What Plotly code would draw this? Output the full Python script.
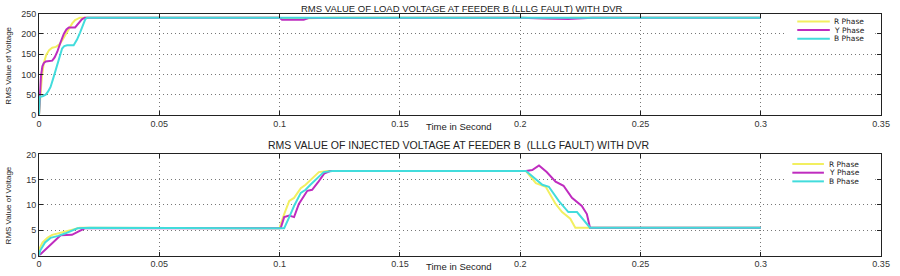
import plotly.graph_objects as go

# ---------------- data ----------------
# Top: RMS value of load voltage
load_t_R = [0, 0.0005, 0.0012, 0.002, 0.003, 0.0042, 0.0055, 0.007, 0.0085, 0.0096, 0.011, 0.0124, 0.0138, 0.015, 0.016, 0.017, 0.1, 0.102, 0.108, 0.112, 0.12, 0.2, 0.205, 0.215, 0.222, 0.3]
load_v_R = [0, 40, 95, 128, 148, 160, 166, 168, 174, 184, 198, 212, 226, 234, 238, 240, 240, 238, 238, 239, 240, 240, 239, 238, 240, 240]
load_t_Y = [0, 0.0003, 0.0008, 0.0014, 0.002, 0.0028, 0.0055, 0.0065, 0.0076, 0.009, 0.0103, 0.0114, 0.0124, 0.015, 0.0165, 0.0178, 0.019, 0.1, 0.101, 0.11, 0.112, 0.2, 0.21, 0.22, 0.23, 0.3]
load_v_Y = [0, 45, 95, 120, 128, 132, 134, 142, 156, 180, 200, 211, 216, 216, 226, 236, 240, 240, 235, 235, 239, 240, 238, 237, 240, 240]
load_t_B = [0, 0.0003, 0.0015, 0.0028, 0.0038, 0.0048, 0.006, 0.0076, 0.0088, 0.0096, 0.0105, 0.0117, 0.0144, 0.0158, 0.0171, 0.0185, 0.0192, 0.020, 0.1, 0.3]
load_v_B = [0, 45, 46, 50, 58, 69, 92, 125, 150, 164, 170, 172, 172, 186, 204, 226, 236, 240, 240, 240]

# Bottom: RMS value of injected voltage
inj_t_R = [0, 0.0003, 0.0015, 0.0035, 0.0055, 0.009, 0.012, 0.017, 0.1, 0.1005, 0.1019, 0.104, 0.106, 0.1088, 0.1108, 0.1135, 0.1163, 0.12, 0.2024, 0.2065, 0.2106, 0.2147, 0.2174, 0.2208, 0.2229, 0.3]
inj_v_R = [0, 1.5, 2.6, 3.5, 4.1, 4.5, 4.9, 5.5, 5.4, 6.3, 8.2, 10.8, 11.4, 13.3, 14.0, 15.2, 16.5, 16.7, 16.7, 14.3, 13.6, 10.2, 8.6, 7.3, 5.5, 5.5]
inj_t_Y = [0, 0.0028, 0.006, 0.009, 0.0137, 0.0165, 0.019, 0.1, 0.1005, 0.1019, 0.104, 0.106, 0.108, 0.1115, 0.1135, 0.116, 0.1185, 0.121, 0.2024, 0.205, 0.2078, 0.211, 0.2147, 0.218, 0.2215, 0.2256, 0.2277, 0.229, 0.3]
inj_v_Y = [0, 1.3, 2.6, 4.0, 4.1, 4.8, 5.4, 5.4, 5.5, 7.6, 7.9, 7.6, 10.2, 12.8, 13.0, 14.5, 16.2, 16.7, 16.7, 16.9, 17.8, 16.5, 14.6, 13.8, 11.4, 9.8, 8.2, 5.5, 5.5]
inj_t_B = [0, 0.0005, 0.0025, 0.0048, 0.008, 0.011, 0.016, 0.021, 0.1, 0.1019, 0.104, 0.106, 0.1088, 0.1108, 0.1128, 0.1155, 0.1183, 0.122, 0.2024, 0.2092, 0.2119, 0.216, 0.22, 0.2236, 0.227, 0.229, 0.3]
inj_v_B = [0, 1.0, 2.6, 3.5, 3.9, 4.4, 5.4, 5.5, 5.4, 5.4, 7.6, 9.8, 12.4, 13.0, 14.0, 15.2, 16.5, 16.7, 16.7, 14.0, 13.6, 10.8, 8.6, 8.6, 6.7, 5.5, 5.5]

phase_names = ["R Phase", "Y Phase", "B Phase"]
phase_colors = ["#f2ef60", "#bf2cbf", "#42dcdc"]

top_title = "RMS VALUE OF LOAD VOLTAGE AT FEEDER B (LLLG FAULT) WITH DVR"
bot_title = "RMS VALUE OF INJECTED VOLTAGE AT FEEDER B  (LLLG FAULT) WITH DVR"
x_label = "Time in Second"
y_label = "RMS Value of Voltage"
x_ticks = [0, 0.05, 0.1, 0.15, 0.2, 0.25, 0.3, 0.35]
x_tick_text = ["0", "0.05", "0.1", "0.15", "0.2", "0.25", "0.3", "0.35"]
top_y_ticks = [0, 50, 100, 150, 200, 250]
bot_y_ticks = [0, 5, 10, 15, 20]

# ---------------- figure ----------------
W, H = 900, 276
fig = go.Figure()

top_series = [(load_t_R, load_v_R), (load_t_Y, load_v_Y), (load_t_B, load_v_B)]
bot_series = [(inj_t_R, inj_v_R), (inj_t_Y, inj_v_Y), (inj_t_B, inj_v_B)]

for (t, v), name, col in zip(top_series, phase_names, phase_colors):
    fig.add_trace(go.Scatter(x=t, y=v, mode="lines", name=name, line=dict(color=col, width=2),
                             xaxis="x", yaxis="y", showlegend=False))
for (t, v), name, col in zip(bot_series, phase_names, phase_colors):
    fig.add_trace(go.Scatter(x=t, y=v, mode="lines", name=name, line=dict(color=col, width=2),
                             xaxis="x2", yaxis="y2", showlegend=False))

def px(x):
    return x / W

def py(y):
    return 1 - y / H

xdom = [px(36.5), px(890)]
tick_font = dict(family="Liberation Sans, Arial", size=9, color="#333333")
ax_common = dict(showline=True, linecolor="#222222", linewidth=1, mirror="ticks",
                 ticks="inside", ticklen=4, tickcolor="#222222",
                 showgrid=True, gridcolor="#777777", griddash="1px,3px", gridwidth=1,
                 zeroline=False, tickfont=tick_font)

fig.update_layout(
    width=W, height=H,
    margin=dict(l=0, r=0, t=0, b=0),
    paper_bgcolor="white", plot_bgcolor="white",
    xaxis=dict(domain=xdom, anchor="y", range=[0, 0.35], tickvals=x_ticks, ticktext=x_tick_text, **ax_common),
    yaxis=dict(domain=[py(114), py(9)], anchor="x", range=[0, 250], tickvals=top_y_ticks, **ax_common),
    xaxis2=dict(domain=xdom, anchor="y2", range=[0, 0.35], tickvals=x_ticks, ticktext=x_tick_text, **ax_common),
    yaxis2=dict(domain=[py(260), py(155)], anchor="x2", range=[0, 20], tickvals=bot_y_ticks, **ax_common),
    showlegend=False,
)

title_font = dict(family="Liberation Sans, Arial", size=10.5, color="#222222")
top_title_font = dict(family="Liberation Sans, Arial", size=9.5, color="#222222")
xlab_font = dict(family="Liberation Sans, Arial", size=9.5, color="#222222")
ylab_font = dict(family="Liberation Sans, Arial", size=8, color="#222222")
annotations = [
    dict(text=top_title, x=px(465), y=py(4), xref="paper", yref="paper", showarrow=False, font=top_title_font, xanchor="center", yanchor="middle"),
    dict(text=bot_title, x=px(462), y=py(145), xref="paper", yref="paper", showarrow=False, font=title_font, xanchor="center", yanchor="middle"),
    dict(text=x_label, x=px(462), y=py(126), xref="paper", yref="paper", showarrow=False, font=xlab_font, xanchor="center", yanchor="middle"),
    dict(text=x_label, x=px(462), y=py(271), xref="paper", yref="paper", showarrow=False, font=xlab_font, xanchor="center", yanchor="middle"),
    dict(text=y_label, x=px(6), y=py(63), xref="paper", yref="paper", showarrow=False, font=ylab_font, textangle=-90, xanchor="center", yanchor="middle"),
    dict(text=y_label, x=px(6), y=py(208), xref="paper", yref="paper", showarrow=False, font=ylab_font, textangle=-90, xanchor="center", yanchor="middle"),
]

# manual compact legends (white box, no border, as in the reference)
shapes = []
legend_specs = [(805, 838, 841, 17, 10, 42), (800, 832, 836, 165, 156, 188)]
for lx0, lx1, tx, ly0, by0, by1 in legend_specs:
    shapes.append(dict(type="rect", xref="paper", yref="paper", x0=px(793), x1=px(884), y0=py(by1), y1=py(by0),
                       fillcolor="white", line=dict(width=0), layer="above"))
    for i, (name, col) in enumerate(zip(phase_names, phase_colors)):
        yy = ly0 + i * 9
        shapes.append(dict(type="line", xref="paper", yref="paper", x0=px(lx0), x1=px(lx1), y0=py(yy), y1=py(yy),
                           line=dict(color=col, width=2), layer="above"))
        annotations.append(dict(text=name, x=px(tx), y=py(yy), xref="paper", yref="paper", showarrow=False,
                                font=dict(family="DejaVu Sans", size=7.5, color="#222222"),
                                xanchor="left", yanchor="middle", borderpad=0))

fig.update_layout(annotations=annotations, shapes=shapes)
fig.write_html("out.html")
